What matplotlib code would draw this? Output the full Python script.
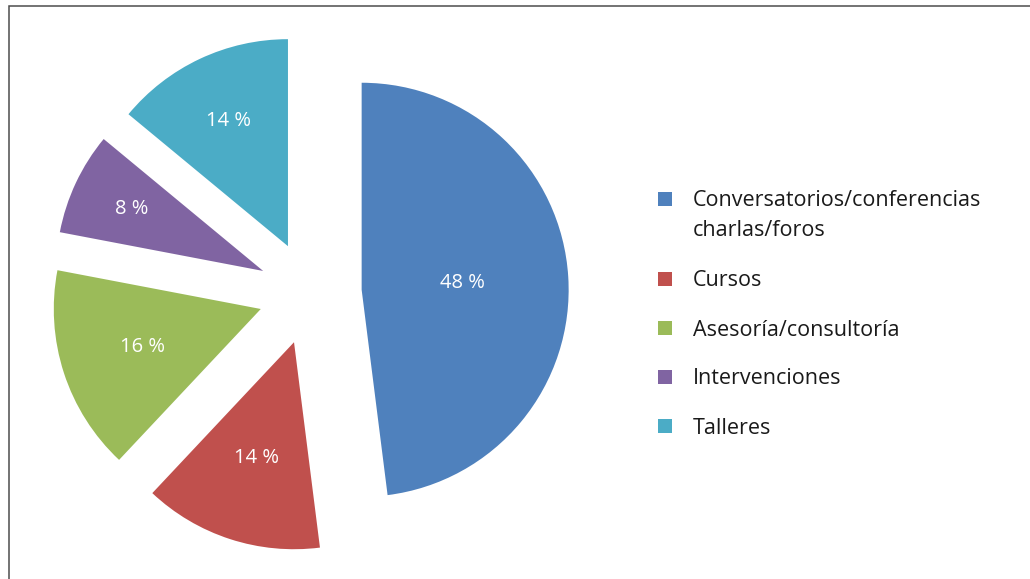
"""
Exploded pie: distribución de actividades.
"""

import numpy as np
import matplotlib
matplotlib.use("Agg")
import matplotlib.pyplot as plt
from matplotlib.patches import Rectangle

plt.rcParams["font.family"] = ["Open Sans", "DejaVu Sans"]

CATEGORIES = [
    "Conversatorios/conferencias\ncharlas/foros",
    "Cursos",
    "Asesoría/consultoría",
    "Intervenciones",
    "Talleres",
]
VALUES = [48, 14, 16, 8, 14]
COLORS = ["#4F81BD", "#C0504D", "#9BBB59", "#8064A2", "#4BACC6"]

# radial position of each percentage label (fraction of radius, from wedge tip)
LABEL_DIST = [0.49, 0.59, 0.60, 0.70, 0.67]
EXPLODE = 0.25

W, H = 1030, 579


def px(x, y):
    # pixel (from top-left) -> figure fraction
    return x / W, 1 - y / H


fig = plt.figure(figsize=(W / 100, H / 100), dpi=100)
fig.patch.set_facecolor("white")

# pie axes: 1 data unit = 207 px, pie centre at (310, 293) px
R_PX = 207
ax = fig.add_axes([0, 0, 620 / W, 1])
wedges, _ = ax.pie(
    VALUES, colors=COLORS, startangle=90, counterclock=False,
    explode=[EXPLODE] * len(VALUES), radius=1,
    wedgeprops=dict(linewidth=0),
)
ax.set_aspect("auto")
ax.set_xlim(-310 / R_PX, 310 / R_PX)
ax.set_ylim(-(H - 293) / R_PX, 293 / R_PX)
ax.axis("off")

# percentage labels
for w, v, d in zip(wedges, VALUES, LABEL_DIST):
    ang = np.deg2rad((w.theta1 + w.theta2) / 2)
    cx, cy = w.center
    ax.text(cx + d * np.cos(ang), cy + d * np.sin(ang), f"{v} %",
            color="white", fontsize=14.5, ha="center", va="center")

# legend, drawn by hand (one text per line so the square sits on line 1)
y = 199
for label, color in zip(CATEGORIES, COLORS):
    x0, y0 = px(658, y + 7)
    fig.add_artist(Rectangle((x0, y0), 14 / W, 14 / H, transform=fig.transFigure,
                             facecolor=color, edgecolor="none"))
    for i, line in enumerate(label.split("\n")):
        tx, ty = px(693, y + 7.5 + 29 * i)
        fig.text(tx, ty, line, fontsize=15.5, color="#1a1a1a",
                 ha="left", va="baseline")
    y += 49 + 31 * label.count("\n")

# outer frame
fx, fy = px(9, 6)
fig.add_artist(Rectangle((fx, -0.1), 1.2, fy + 0.1, transform=fig.transFigure,
                         facecolor="none", edgecolor="#4d4d4d", linewidth=1.1))

fig.savefig("out.png", dpi=100, facecolor=fig.get_facecolor())
